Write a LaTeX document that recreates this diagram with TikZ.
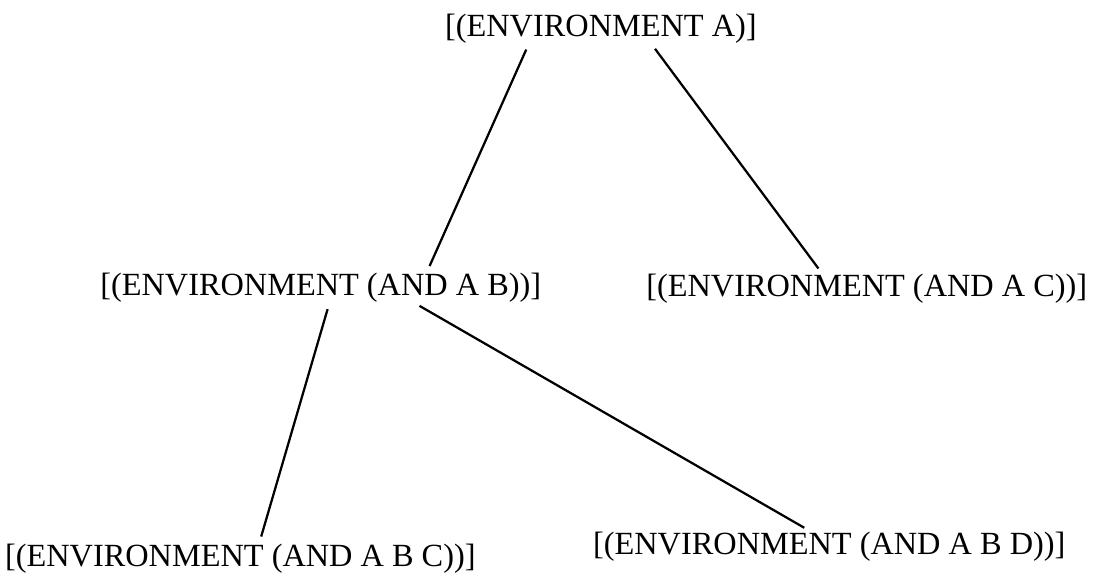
\documentclass[tikz,border=0pt]{standalone}
\usepackage{fontspec}
\setmainfont{Liberation Serif}
\usepackage{tikz}
\usetikzlibrary{calc}

\begin{document}
\begin{tikzpicture}[
  env/.style={
    inner sep=0pt, anchor=base west,
    font=\fontsize{23}{27}\selectfont
  },
  link/.style={line width=1.6pt, shorten <=5pt, shorten >=5pt}
]
\useasboundingbox (0,0) rectangle (27.55,-14.625);

\node[env] (envA)   at (11.12,-0.90)  {[(ENVIRONMENT A)]};
\node[env] (envAB)  at (2.50,-7.38)   {[(ENVIRONMENT (AND A B))]};
\node[env] (envAC)  at (16.15,-7.42)  {[(ENVIRONMENT (AND A C))]};
\node[env] (envABC) at (0.12,-14.15)  {[(ENVIRONMENT (AND A B C))]};
\node[env] (envABD) at (14.82,-13.85) {[(ENVIRONMENT (AND A B D))]};

\draw[link] ($(envA.south west)!0.27!(envA.south east)$) -- ($(envAB.north west)!0.74!(envAB.north east)$);
\draw[link] ($(envA.south west)!0.66!(envA.south east)$) -- ($(envAC.north west)!0.40!(envAC.north east)$);
\draw[link] ($(envAB.south west)!0.52!(envAB.south east)$) -- ($(envABC.north west)!0.54!(envABC.north east)$);
\draw[link] ($(envAB.south west)!0.71!(envAB.south east)$) -- ($(envABD.north west)!0.46!(envABD.north east)$);
\end{tikzpicture}
\end{document}
